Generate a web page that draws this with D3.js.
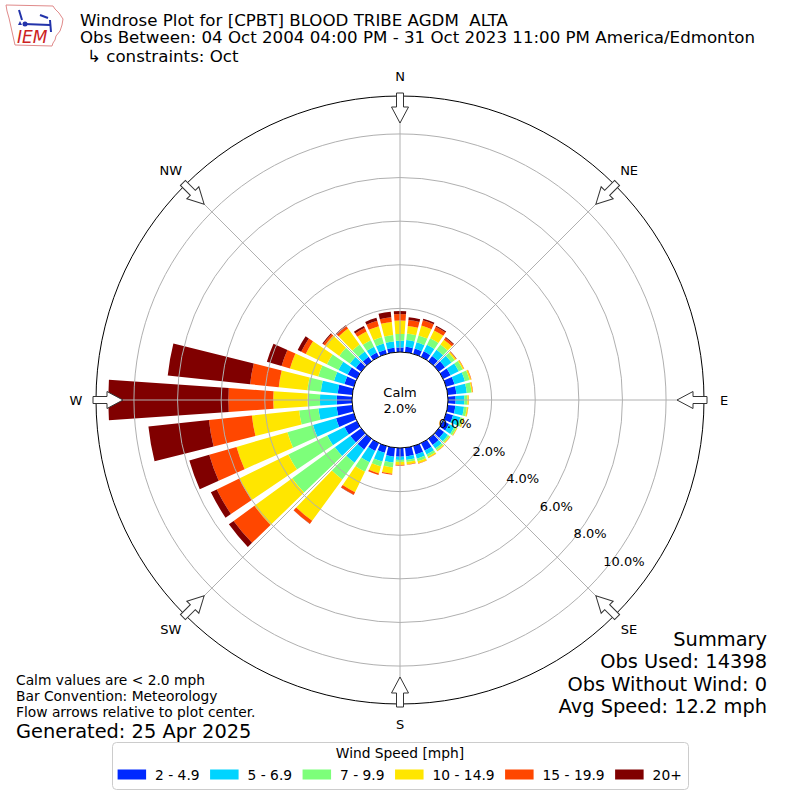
<!DOCTYPE html>
<html><head><meta charset="utf-8">
<script src="https://cdn.jsdelivr.net/npm/d3@7"></script>
<style>
body{margin:0;background:#fff}
svg{display:block}
text{font-family:"DejaVu Sans",sans-serif;fill:#000}
</style>
</head><body>
<svg id="chart" width="800" height="800"></svg>
<script>
// ---------------- data ----------------
const directions = [0,10,20,30,40,50,60,70,80,90,100,110,120,130,140,150,160,170,
                    180,190,200,210,220,230,240,250,260,270,280,290,300,310,320,330,340,350];
const speedBins = ["2 - 4.9","5 - 6.9","7 - 9.9","10 - 14.9","15 - 19.9","20+"];
const binColors = ["#0029ff","#00d4ff","#7dff7a","#ffe600","#ff4700","#800000"];
// percent of observations per direction, per speed bin
const bin2to5   = [0.21,0.25,0.25,0.28,0.30,0.35,0.38,0.40,0.40,0.35,0.35,0.33,0.30,0.30,0.35,0.38,0.40,0.40,
                   0.40,0.41,0.32,0.40,0.60,0.61,0.63,0.85,0.72,0.70,0.67,0.45,0.47,0.30,0.25,0.22,0.20,0.21];
const bin5to7   = [0.31,0.31,0.30,0.34,0.35,0.37,0.42,0.50,0.48,0.40,0.40,0.35,0.28,0.22,0.20,0.20,0.20,0.16,
                   0.15,0.27,0.41,0.58,0.75,0.88,0.88,1.10,0.84,0.77,0.78,0.50,0.47,0.34,0.30,0.30,0.30,0.29];
const bin7to10  = [0.31,0.30,0.33,0.33,0.30,0.18,0.20,0.22,0.22,0.14,0.13,0.12,0.10,0.09,0.10,0.11,0.12,0.10,
                   0.09,0.23,0.24,0.48,0.95,2.42,1.99,1.22,0.89,0.57,0.62,0.75,0.59,0.60,0.40,0.33,0.30,0.30];
const bin10to15 = [0.61,0.35,0.47,0.40,0.27,0.08,0.06,0.07,0.05,0.06,0.06,0.05,0.04,0.04,0.05,0.07,0.10,0.11,
                   0.14,0.29,0.33,1.04,2.35,2.14,2.50,2.43,2.18,1.57,1.32,1.35,1.08,0.81,0.90,0.45,0.52,0.60];
const bin15to20 = [0.30,0.28,0.25,0.18,0.11,0.02,0.02,0.02,0.02,0.01,0.01,0.01,0.01,0.01,0.01,0.01,0.02,0.02,
                   0.03,0.05,0.08,0.13,0.17,1.18,1.15,1.30,1.98,2.06,1.32,0.40,0.23,0.10,0.13,0.18,0.26,0.22];
const bin20plus = [0.14,0.13,0.08,0.06,0.04,0.01,0.00,0.00,0.00,0.00,0.00,0.00,0.00,0.00,0.00,0.00,0.00,0.00,
                   0.00,0.00,0.00,0.01,0.01,0.27,0.30,0.95,2.79,5.51,3.80,0.70,0.18,0.05,0.05,0.10,0.14,0.25];
const calmPct = 2.0;
const ringTicks = [0,2,4,6,8,10];
const compassLabels = ["N","NE","E","SE","S","SW","W","NW"];
const compassAngles = [0,45,90,135,180,225,270,315];

const titleLines = ["Windrose Plot for [CPBT] BLOOD TRIBE AGDM  ALTA",
  "Obs Between: 04 Oct 2004 04:00 PM - 31 Oct 2023 11:00 PM America/Edmonton",
  "\u21b3 constraints: Oct"];
const summaryLines = ["Summary","Obs Used: 14398","Obs Without Wind: 0","Avg Speed: 12.2 mph"];
const noteLines = ["Calm values are < 2.0 mph","Bar Convention: Meteorology","Flow arrows relative to plot center."];
const generatedText = "Generated: 25 Apr 2025";

// ---------------- layout ----------------
const svg = d3.select("#chart");
const cx = 400, cy = 400, calmR = 48, outerR = 304, rMax = 11.74;
const rScale = d3.scaleLinear().domain([0, rMax]).range([calmR, outerR]);
const aScale = d3.scaleLinear().domain([0, 360]).range([0, 2*Math.PI]);
const halfWidthDeg = 4;

const series = [bin2to5,bin5to7,bin7to10,bin10to15,bin15to20,bin20plus];
const table = directions.map((d,i)=>{
  const row = {dir:d};
  speedBins.forEach((b,k)=>row[b]=series[k][i]);
  return row;
});
const stacked = d3.stack().keys(speedBins)(table);

const plot = svg.append("g").attr("transform",`translate(${cx},${cy})`);
const arc = d3.arc();

// bars
stacked.forEach((layer,k)=>{
  plot.append("g").selectAll("path").data(layer).join("path")
    .attr("d", d => arc({
      innerRadius: rScale(d[0]), outerRadius: rScale(d[1]),
      startAngle: aScale(d.data.dir - halfWidthDeg), endAngle: aScale(d.data.dir + halfWidthDeg)}))
    .attr("fill", binColors[k]);
});

// grid rings
plot.append("g").selectAll("circle").data(ringTicks.filter(t=>t>0)).join("circle")
  .attr("r", d=>rScale(d)).attr("fill","none").attr("stroke","#b0b0b0").attr("stroke-width",1);
// radial lines
plot.append("g").selectAll("line").data(compassAngles).join("line")
  .attr("x1",0).attr("y1",0)
  .attr("x2",d=>outerR*Math.sin(aScale(d))).attr("y2",d=>-outerR*Math.cos(aScale(d)))
  .attr("stroke","#b0b0b0").attr("stroke-width",1);
// outer circle
plot.append("circle").attr("r",outerR).attr("fill","none").attr("stroke","#000").attr("stroke-width",1);
// calm circle
plot.append("circle").attr("r",calmR).attr("fill","#fff").attr("stroke","#000").attr("stroke-width",1);
plot.append("text").attr("x",0).attr("y",-3).attr("text-anchor","middle").attr("font-size",13).text("Calm");
plot.append("text").attr("x",0).attr("y",12.5).attr("text-anchor","middle").attr("font-size",13).text(calmPct.toFixed(1)+"%");

// radial tick labels
const labAng = 39.3*Math.PI/180;
plot.append("g").selectAll("text").data(ringTicks).join("text")
  .attr("x", d=>rScale(d)*Math.cos(labAng)+18)
  .attr("y", d=>rScale(d)*Math.sin(labAng)-7)
  .attr("text-anchor","middle").attr("dominant-baseline","central")
  .attr("font-size",13).text(d=>d.toFixed(1)+"%");

// flow arrows
const arrowPts = [[-3.5,-307],[3.5,-307],[3.5,-293],[8.5,-293],[0,-277],[-8.5,-293],[-3.5,-293]];
plot.append("g").selectAll("path").data(compassAngles).join("path")
  .attr("d", "M"+arrowPts.map(p=>p.join(",")).join("L")+"Z")
  .attr("transform", d=>`rotate(${d})`)
  .attr("fill","#fff").attr("stroke","#333").attr("stroke-width",1);

// compass labels
plot.append("g").selectAll("text").data(compassAngles).join("text")
  .attr("x", d=>324*Math.sin(aScale(d)))
  .attr("y", d=>-324*Math.cos(aScale(d)))
  .attr("text-anchor","middle").attr("dominant-baseline","central")
  .attr("font-size",13).text((d,i)=>compassLabels[i]);

// ---------------- titles ----------------
const titleX = [80,80,87];
const titleY = [25.5,42.8,62.3];
svg.append("g").selectAll("text").data(titleLines).join("text")
  .attr("x",(d,i)=>titleX[i]).attr("y",(d,i)=>titleY[i]).attr("font-size",16.67)
  .style("white-space","pre").text(d=>d);

// summary
const sumY = [645.5,668,690.5,712.5];
svg.append("g").selectAll("text").data(summaryLines).join("text")
  .attr("x",767).attr("y",(d,i)=>sumY[i]).attr("text-anchor","end").attr("font-size",19.4).text(d=>d);

// notes
const noteY = [684.5,700.5,716.5];
svg.append("g").selectAll("text").data(noteLines).join("text")
  .attr("x",16).attr("y",(d,i)=>noteY[i]).attr("font-size",13.8).text(d=>d);
svg.append("text").attr("x",16).attr("y",738).attr("font-size",19.4).text(generatedText);

// ---------------- legend ----------------
const lg = svg.append("g");
lg.append("rect").attr("x",112.5).attr("y",742.5).attr("width",576).attr("height",47)
  .attr("rx",4).attr("fill","#fff").attr("stroke","#cccccc").attr("stroke-width",1);
lg.append("text").attr("x",400).attr("y",757.5).attr("text-anchor","middle").attr("font-size",13.8).text("Wind Speed [mph]");
let lx = 117.6;
speedBins.forEach((b,k)=>{
  lg.append("rect").attr("x",lx).attr("y",769.5).attr("width",28.5).attr("height",10).attr("fill",binColors[k]);
  const t = lg.append("text").attr("x",lx+37.5).attr("y",779.5).attr("font-size",13.8).text(b);
  lx = lx + 37.5 + t.node().getComputedTextLength() + 10.5;
});

// ---------------- logo ----------------
const logo = svg.append("g");
logo.append("path")
  .attr("d","M6,5 L53,6 L55,9 L59,13 L63,19 L62,25 L60,31 L56,36 L55,40 L53,43 L52,46 L15,45 L13,36 L11,27 L9,18 L7,11 Z")
  .attr("fill","#fff").attr("stroke","#e08a8a").attr("stroke-width",1);
logo.append("path").attr("d","M19,10 L22,20 M24,24 L50,25 M40,15 L48,18 M50,20 L51,32")
  .attr("stroke","#2233aa").attr("stroke-width",2).attr("fill","none");
logo.append("circle").attr("cx",25).attr("cy",24).attr("r",2.5).attr("fill","#2233aa");
logo.append("path").attr("d","M18,25 L20,21 L22,25 Z").attr("fill","#2233aa");
logo.append("text").attr("x",17).attr("y",43).attr("font-family","'Liberation Serif',serif")
  .attr("font-style","italic").attr("font-size",17).style("fill","#cc2222").text("IEM");
</script>
</body></html>
